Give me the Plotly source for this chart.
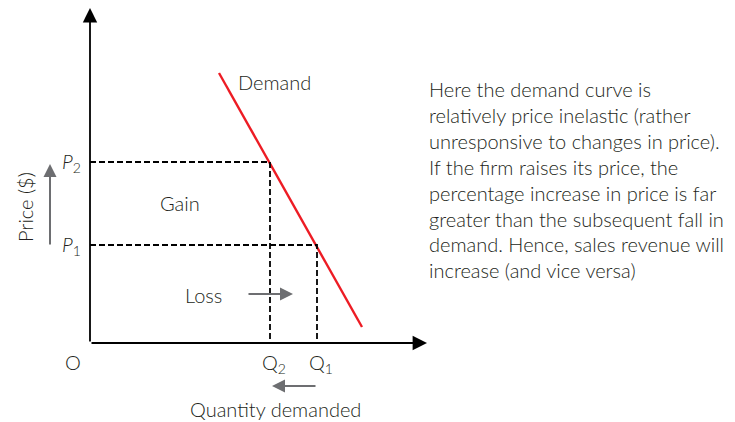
import plotly.graph_objects as go

# ---- data ----
quantities = [18.0, 22.7]          # Q2, Q1
prices = [18.1, 9.8]               # P2, P1
q_labels = ["Q<sub>2</sub>", "Q<sub>1</sub>"]
p_labels = ["<i>P</i><sub>2</sub>", "<i>P</i><sub>1</sub>"]
demand_x = [12.9, 27.2]
demand_y = [27.0, 1.6]
x_axis_end = 33.7
y_axis_end = 33.5
text_lines = [
    "Here the demand curve is",
    "relatively price inelastic (rather",
    "unresponsive to changes in price).",
    "If the firm raises its price, the",
    "percentage increase in price is far",
    "greater than the subsequent fall in",
    "demand. Hence, sales revenue will",
    "increase (and vice versa)",
]

FONT = "Lato"
TXT = "#231f20"
GRAY = "#6d6e71"
FS = 20

fig = go.Figure()


def line(xs, ys, color, width, dash="solid"):
    fig.add_trace(go.Scatter(x=xs, y=ys, mode="lines",
                             line=dict(color=color, width=width, dash=dash),
                             hoverinfo="skip", showlegend=False))


# demand curve
line(demand_x, demand_y, "#ed1c24", 2.4)

# dashed guides
for q, p in zip(quantities, prices):
    line([0, q, q], [p, p, 0], "black", 1.8, "6px,3px")

ann = []


def arrow(x0, y0, x1, y1, color, width, size):
    ann.append(dict(x=x1, y=y1, ax=x0, ay=y0, xref="x", yref="y", axref="x", ayref="y",
                    showarrow=True, arrowhead=2, arrowsize=size, arrowwidth=width,
                    arrowcolor=color, text=""))


# axes
arrow(0, 0, 0, y_axis_end, "black", 1.8, 1.6)
arrow(0, 0, x_axis_end, 0, "black", 1.8, 1.6)

# gray arrows
arrow(-4.0, prices[1] - 0.1, -4.0, prices[0] - 0.2, GRAY, 2, 1.3)
arrow(15.7, 4.9, 20.3, 4.9, GRAY, 2, 1.3)
arrow(quantities[1], -4.3, quantities[0] + 0.2, -4.3, GRAY, 2, 1.3)


def label(x, y, text, xanchor="center", yanchor="middle", angle=0, size=FS, xshift=0):
    ann.append(dict(x=x, y=y, xref="x", yref="y", text=text, showarrow=False,
                    xanchor=xanchor, yanchor=yanchor, textangle=angle, xshift=xshift,
                    font=dict(family=FONT, size=size, color=TXT, weight=300)))


for p, t in zip(prices, p_labels):
    label(-0.7, p, t, xanchor="right")
for q, t in zip(quantities, q_labels):
    label(q, -2.0, t, xshift=4)

label(-1.7, -1.9, "O")
label(-6.5, 13.6, "Price ($)", angle=-90)
label(9.0, 14.0, "Gain")
label(11.3, 4.8, "Loss")
label(18.4, 26.1, "Demand")
label(18.5, -6.6, "Quantity demanded")

for i, t in enumerate(text_lines):
    label(33.7, (343 - (89 + 25.9 * i)) / 10, t, xanchor="left")

fig.update_layout(
    width=735, height=422, margin=dict(l=0, r=0, t=0, b=0),
    paper_bgcolor="white", plot_bgcolor="white",
    xaxis=dict(range=[-8.2, 65.3], visible=False, fixedrange=True),
    yaxis=dict(range=[-8.7, 33.5], visible=False, fixedrange=True),
    annotations=ann, showlegend=False,
)

fig.write_html("out.html")
